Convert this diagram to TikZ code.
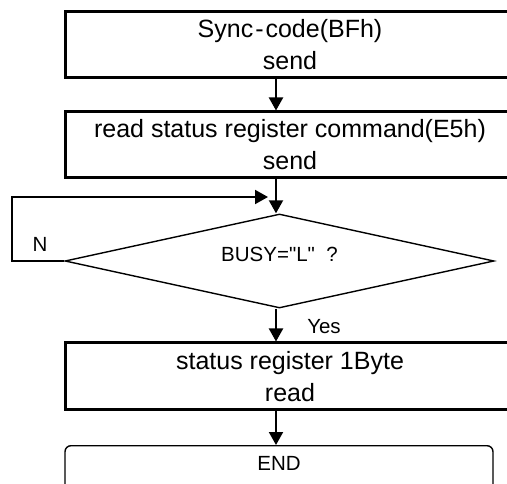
\documentclass[tikz,border=0pt]{standalone}
\usepackage{fontspec}
\setmainfont{Liberation Sans}[Ligatures=TeXOff]
\usetikzlibrary{arrows.meta,shapes.geometric}
\begin{document}
\begin{tikzpicture}[x=1pt,y=-1pt,
  procbox/.style={draw, line width=3pt, rectangle, inner sep=0pt, align=center,
    minimum width=450pt, minimum height=66pt, font=\fontsize{25}{32}\selectfont},
  decbox/.style={draw, line width=1.4pt, diamond, aspect=4.5, inner sep=0pt,
    minimum width=429pt, minimum height=94pt, font=\fontsize{20.5}{24}\selectfont,
    text height=1pt, text depth=0pt},
  endbox/.style={draw, line width=1.4pt, rectangle, rounded corners=6pt, inner sep=0pt,
    minimum width=428pt, text height=24.5pt, text depth=25.5pt, font=\fontsize{20.5}{24}\selectfont},
  arr/.style={line width=2pt, -{Triangle[width=14pt,length=13pt]}},
  lbl/.style={font=\fontsize{20.5}{24}\selectfont, inner sep=0pt}]
\useasboundingbox (0,0) rectangle (507,484);
\clip (0,0) rectangle (507,484);
\fill[white] (0,0) rectangle (507,484);
\coordinate (ax) at (276,0);
\node[procbox] (b1) at (290,45) {Sync\kern2pt-\kern2pt code(BFh)\\send};
\node[procbox] (b2) at (290,145) {read status register command(E5h)\\send};
\node[decbox] (dec) at (279.5,261) {BUSY="L"\ \ ?};
\node[procbox, minimum height=67pt] (b3) at (290,376.5) {status register 1Byte\\read};
\node[endbox, anchor=north] (e) at (279,445) {END};
\coordinate (loopa) at (12,261);
\coordinate (join) at (268,197);
\draw[arr] (b1.south -| ax) -- (b2.north -| ax);
\draw[arr] (b2.south -| ax) -- (dec.north -| ax);
\draw[line width=2pt, -{Triangle[width=14pt,length=13pt]}] (dec.west) -- (loopa) |- (join);
\draw[arr] (dec.south -| ax) -- (b3.north -| ax);
\draw[arr] (b3.south -| ax) -- (e.north -| ax);
\node[lbl] (nlab) at (40,244) {N};
\node[lbl] (ylab) at (324,327) {Yes};
\end{tikzpicture}
\end{document}
